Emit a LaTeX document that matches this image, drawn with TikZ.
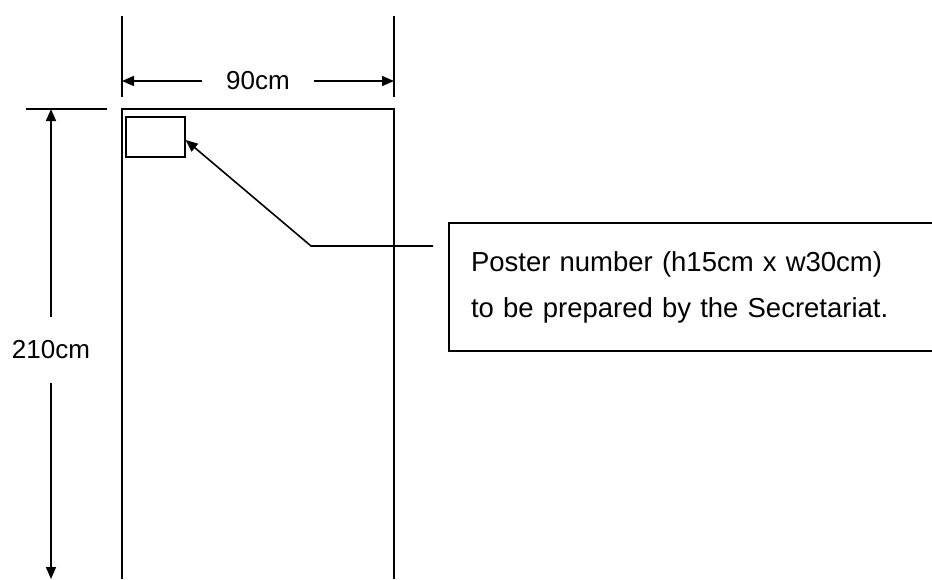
\documentclass[tikz,border=0pt]{standalone}
\usepackage{fontspec}
\setmainfont{Liberation Sans}
\usetikzlibrary{positioning,arrows.meta,calc}

\begin{document}
\begin{tikzpicture}[
    x=1pt, y=-1pt,
    line width=1.6pt,
    >={Triangle[length=12pt,width=10pt]},
    dimlabel/.style={
        inner sep=0pt,
        font=\fontsize{26}{30}\selectfont
    },
    notebox/.style={
        draw,
        rectangle,
        line width=1.4pt,
        minimum width=496pt,
        minimum height=128pt,
        text width=452pt,
        align=left,
        font=\fontsize{27.5}{46}\selectfont
    }
]
\useasboundingbox (0,0) rectangle (932,579);

% board, open at the bottom
\coordinate (bl) at (122,579);
\coordinate (tl) at (122,109);
\coordinate (tr) at (394,109);
\coordinate (br) at (394,579);
\draw (bl) -- (tl) -- (tr) -- (br);

% extension lines
\coordinate (extla) at (122,16);
\coordinate (extlb) at (122,97);
\coordinate (extra) at (394,16);
\coordinate (extrb) at (394,97);
\coordinate (exttop) at (26,109);
\coordinate (exttopend) at (107,109);
\draw (extla) -- (extlb);
\draw (extra) -- (extrb);
\draw (exttop) -- (exttopend);

% width
\node[dimlabel, minimum width=111pt] (wlbl) at (258,81) {90cm};
\coordinate (wl) at (122,81);
\coordinate (wr) at (394,81);
\draw[->] (wlbl) -- (wl);
\draw[->] (wlbl) -- (wr);

% height
\node[dimlabel, minimum height=65pt] (hlbl) at (51,350) {210cm};
\coordinate (ht) at (51,109);
\coordinate (hb) at (51,579);
\draw[->] (hlbl) -- (ht);
\draw[->] (hlbl) -- (hb);

% poster number
\node[draw, line width=1.4pt, minimum width=59pt, minimum height=40pt] (num) at (155.5,137) {};

\node[notebox] (note) at (697,287) {Poster number (h15cm x w30cm)\\to be prepared by the Secretariat.};

\coordinate (elbow) at (311,246);
\coordinate (ldr) at (433,246);
\draw[->] (ldr) -- (elbow) -- ([yshift=-3pt]num.east);

\end{tikzpicture}
\end{document}
